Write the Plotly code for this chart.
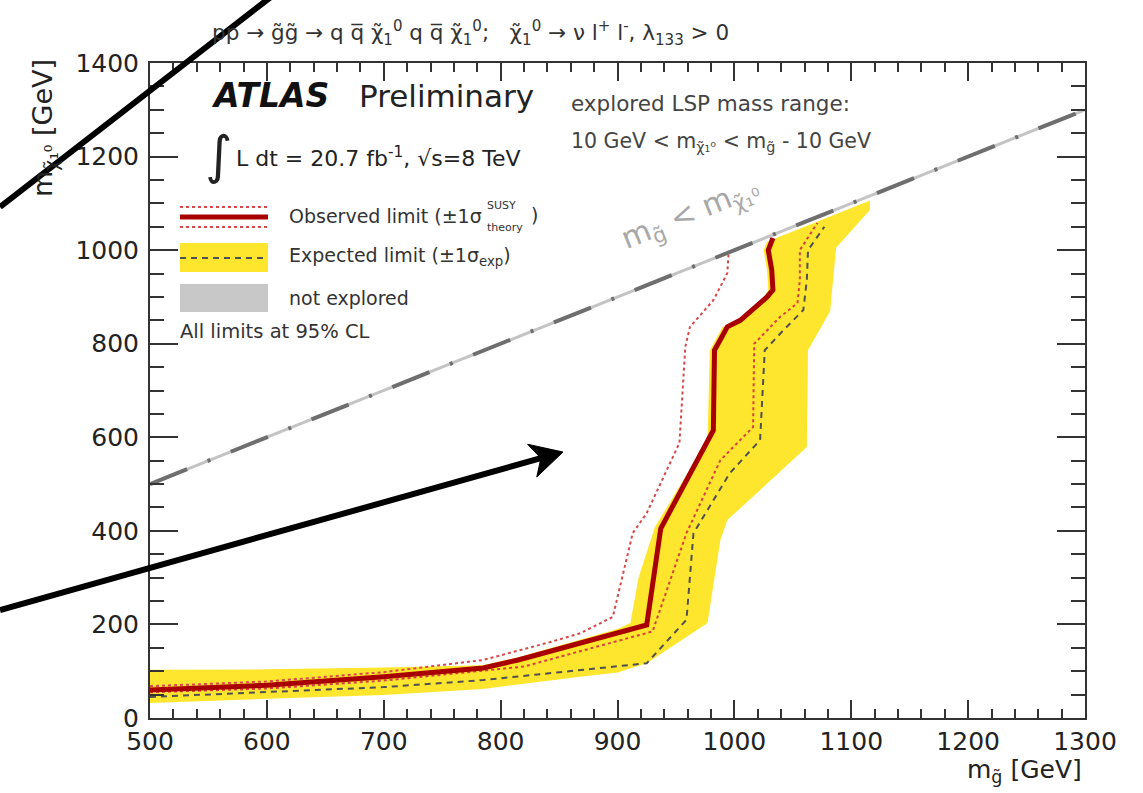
import plotly.graph_objects as go

# ---- exclusion contours in the (m_gluino, m_LSP) plane [GeV] ----
obs_x = [500, 600, 700, 785, 815, 925, 937, 982, 983, 994, 1005, 1028, 1033, 1032, 1029, 1033]
obs_y = [60, 70, 88, 107, 124, 199, 405, 615, 786, 836, 850, 900, 915, 957, 1000, 1026]

obs_dn_x = [500, 600, 700, 785, 842, 868, 896, 913, 925, 953, 958, 962, 982, 994, 995]
obs_dn_y = [68, 78, 98, 124, 162, 181, 216, 395, 438, 588, 793, 836, 893, 951, 992]

obs_up_x = [500, 600, 700, 820, 930, 959, 988, 1016, 1017, 1039, 1054, 1056, 1056, 1071]
obs_up_y = [55, 63, 80, 110, 185, 395, 551, 622, 800, 857, 887, 936, 1000, 1058]

exp_x = [500, 600, 700, 785, 868, 925, 959, 965, 996, 1022, 1026, 1042, 1059, 1062, 1063, 1077]
exp_y = [45, 55, 66, 81, 103, 117, 210, 395, 523, 594, 786, 829, 872, 936, 1000, 1050]

band_hi_x = [500, 600, 700, 785, 815, 900, 911, 918, 932, 977, 979, 990, 1003, 1024, 1029, 1028, 1025, 1028, 1116]
band_hi_y = [103, 104, 108, 113, 130, 190, 203, 300, 408, 594, 786, 836, 848, 895, 915, 957, 1000, 1018, 1106]
band_lo_x = [500, 600, 700, 785, 868, 900, 925, 977, 988, 994, 1062, 1063, 1082, 1087, 1116]
band_lo_y = [32, 41, 49, 62, 88, 97, 117, 203, 380, 423, 579, 786, 870, 1005, 1086]

# kinematic boundary m_gluino = m_LSP
diag_x = [500, 1300]
diag_y = [500, 1300]

x_range = [500, 1300]
y_range = [0, 1400]

FONT = "DejaVu Sans"
W, H = 1143, 793
L, R, T, B = 150, 1085, 63, 718


def fx(px):
    return (px - L) / (R - L)


def fy(py):
    return (B - py) / (B - T)


fig = go.Figure()

# expected +-1 sigma band
fig.add_trace(go.Scatter(
    x=band_hi_x + band_lo_x[::-1], y=band_hi_y + band_lo_y[::-1],
    fill="toself", fillcolor="#ffe62e", line=dict(width=0),
    mode="lines", hoverinfo="skip"))
# expected limit
fig.add_trace(go.Scatter(x=exp_x, y=exp_y, mode="lines",
                         line=dict(color="#505050", width=2, dash="6px,5px")))
# observed theory variations
fig.add_trace(go.Scatter(x=obs_dn_x, y=obs_dn_y, mode="lines",
                         line=dict(color="#d84848", width=2, dash="dot")))
fig.add_trace(go.Scatter(x=obs_up_x, y=obs_up_y, mode="lines",
                         line=dict(color="#d84040", width=2, dash="dot")))
# observed limit
fig.add_trace(go.Scatter(x=obs_x, y=obs_y, mode="lines",
                         line=dict(color="#a80000", width=5)))
# not explored boundary
fig.add_trace(go.Scatter(x=diag_x, y=diag_y, mode="lines",
                         line=dict(color="#c4c4c4", width=3)))
fig.add_trace(go.Scatter(x=diag_x, y=diag_y, mode="lines",
                         line=dict(color="#6e6e6e", width=4,
                                   dash="40px,22px,3px,22px")))

axis_common = dict(
    showgrid=False, zeroline=False, showline=True, linecolor="#333",
    linewidth=2, mirror="ticks", ticks="inside", tickcolor="#333",
    tickwidth=2, tickfont=dict(family=FONT, size=25, color="#222"),
)
fig.update_xaxes(range=x_range, dtick=100, ticklen=18,
                 minor=dict(dtick=20, ticks="inside", ticklen=9, tickwidth=1.5,
                            tickcolor="#333"),
                 ticklabelstandoff=0, **axis_common)
fig.update_yaxes(range=y_range, dtick=200, ticklen=28,
                 minor=dict(dtick=50, ticks="inside", ticklen=14, tickwidth=1.5,
                            tickcolor="#333"),
                 ticklabelstandoff=4, **axis_common)

ann = []


def text(px, py, s, size, color="#333", xanchor="left", yanchor="middle",
         angle=0):
    ann.append(dict(x=fx(px), y=fy(py), xref="paper", yref="paper", text=s,
                    showarrow=False, xanchor=xanchor, yanchor=yanchor,
                    textangle=angle,
                    font=dict(family=FONT, size=size, color=color)))


chi = "χ\u0303"
gl = "g\u0303"
qb = "q\u0305"
sp = "\u00a0"

text(470, 33,
     f"pp → {gl}{gl} → q{sp}{qb}{sp}{chi}<sub>1</sub><sup>0</sup>{sp}q{sp}{qb}{sp}{chi}<sub>1</sub><sup>0</sup>;"
     f"{sp}{sp}{sp}{chi}<sub>1</sub><sup>0</sup> → ν{sp}l<sup>+</sup>{sp}l<sup>-</sup>, λ<sub>133</sub> &gt; 0",
     21.5, "#333", xanchor="center")

text(209, 96, "<b><i>ATLAS</i></b>", 33, "#111")
text(357, 96, "Preliminary", 31, "#222")
text(218, 155, "∫", 52, "#222", xanchor="center")
text(234, 157, "L dt = 20.7 fb<sup>-1</sup>, √s=8 TeV", 22, "#222")

text(287, 216, "Observed limit (±1σ", 19, "#333")
text(485, 205, "SUSY", 11, "#333")
text(485, 227, "theory", 11, "#333")
text(529, 215, ")", 19, "#333")
text(287, 256, "Expected limit (±1σ<sub>exp</sub>)", 19, "#333")
text(287, 298, "not explored", 19, "#333")
text(178, 332, "All limits at 95% CL", 19.5, "#333")

text(569, 103, "explored LSP mass range:", 21.5, "#444")
text(569, 142, f"10 GeV &lt; m<sub>{chi}₁⁰</sub> &lt; m<sub>{gl}</sub> - 10 GeV", 20.5, "#444")

text(690, 214, f"m<sub>{gl}</sub> &lt; m<sub>{chi}₁⁰</sub>", 30, "#a8a8a8",
     xanchor="center", angle=-22)

text(1084, 771, f"m<sub>{gl}</sub> [GeV]", 25, "#222", xanchor="right")
text(44, 128, f"m<sub>{chi}₁⁰</sub> [GeV]", 27, "#222", xanchor="center",
     angle=-90)

# legend symbols
shapes = []


def pline(x0, y0, x1, y1, color, width, dash="solid"):
    shapes.append(dict(type="line", xref="paper", yref="paper",
                       x0=fx(x0), y0=fy(y0), x1=fx(x1), y1=fy(y1),
                       line=dict(color=color, width=width, dash=dash)))


def prect(x0, y0, x1, y1, color):
    shapes.append(dict(type="rect", xref="paper", yref="paper",
                       x0=fx(x0), y0=fy(y0), x1=fx(x1), y1=fy(y1),
                       fillcolor=color, line=dict(width=0)))


pline(180, 207, 268, 207, "#d84848", 2, "dot")
pline(180, 227, 268, 227, "#d84848", 2, "dot")
pline(180, 217, 268, 217, "#a80000", 5)
prect(180, 243, 268, 272, "#ffe62e")
pline(180, 258, 268, 258, "#505050", 2, "6px,5px")
prect(180, 284, 268, 312, "#c8c8c8")

# overlaid pointer strokes
pline(0, 207, 276, -7, "#000", 6)
tail = (0, 610)
tip = (563, 452)
dx, dy = tip[0] - tail[0], tip[1] - tail[1]
ln = (dx * dx + dy * dy) ** 0.5
ux, uy = dx / ln, dy / ln
nx, ny = -uy, ux
hl, hw, notch = 32, 17, 9
pline(tail[0], tail[1], tip[0] - (hl - notch) * ux, tip[1] - (hl - notch) * uy,
      "#000", 6)
b1 = (tip[0] - hl * ux + hw * nx, tip[1] - hl * uy + hw * ny)
b2 = (tip[0] - hl * ux - hw * nx, tip[1] - hl * uy - hw * ny)
nt = (tip[0] - (hl - notch) * ux, tip[1] - (hl - notch) * uy)
path = "M {} {} L {} {} L {} {} L {} {} Z".format(
    fx(tip[0]), fy(tip[1]), fx(b1[0]), fy(b1[1]), fx(nt[0]), fy(nt[1]),
    fx(b2[0]), fy(b2[1]))
shapes.append(dict(type="path", xref="paper", yref="paper", path=path,
                   fillcolor="#000", line=dict(color="#000", width=1)))

fig.update_layout(
    width=W, height=H, showlegend=False,
    margin=dict(l=L, r=W - R, t=T, b=H - B),
    paper_bgcolor="white", plot_bgcolor="white",
    annotations=ann, shapes=shapes,
    font=dict(family=FONT),
)

fig.write_html("out.html")
